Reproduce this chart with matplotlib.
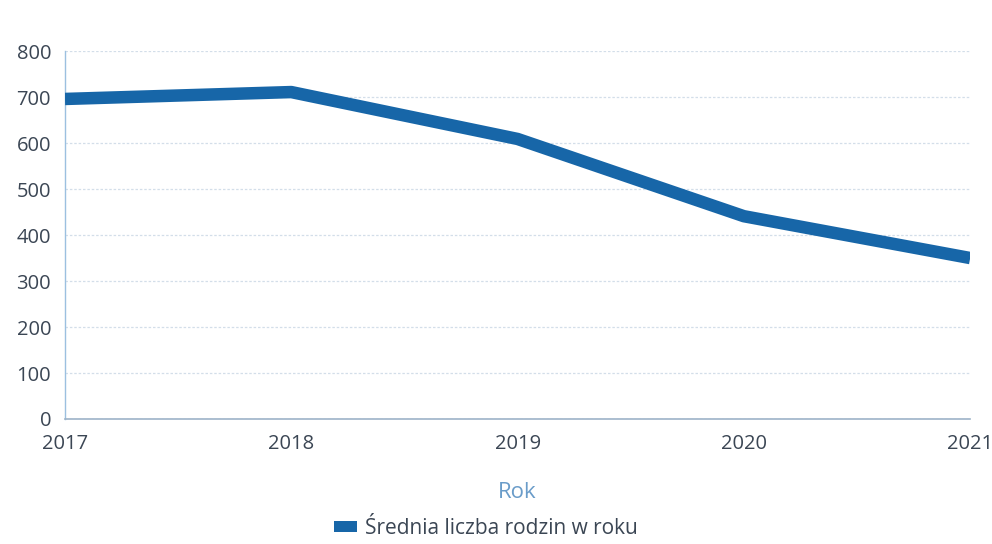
import matplotlib
matplotlib.use("Agg")
import matplotlib.pyplot as plt
from matplotlib.patches import Patch

years = [2017, 2018, 2019, 2020, 2021]
families = [696, 711, 609, 441, 350]
y_ticks = [0, 100, 200, 300, 400, 500, 600, 700, 800]
x_label = "Rok"
series_label = "Średnia liczba rodzin w roku"

plt.rcParams['font.family'] = ['Open Sans', 'DejaVu Sans']

line_color = "#1766a8"
text_color = "#3b4654"

fig = plt.figure(figsize=(9.92, 5.44), dpi=100)
ax = fig.add_axes([0.0655, 0.2298, 0.9125, 0.6762])

ax.plot(years, families, color=line_color, linewidth=9, solid_joinstyle="round",
        solid_capstyle="butt", zorder=3)

ax.set_xlim(years[0], years[-1])
ax.set_ylim(0, 800)
ax.set_xticks(years)
ax.set_yticks(y_ticks)
ax.grid(axis="y", color="#d3dee9", linewidth=0.9, linestyle=(0, (2, 1.5)))
ax.grid(axis="x", visible=False)
ax.set_axisbelow(True)

for s in ("top", "right"):
    ax.spines[s].set_visible(False)
ax.spines["left"].set_color("#9cc0e0")
ax.spines["bottom"].set_color("#9db3c8")
ax.spines["left"].set_linewidth(1.0)
ax.spines["bottom"].set_linewidth(1.2)

ax.tick_params(axis="both", length=0, labelsize=14.5, labelcolor=text_color)
ax.tick_params(axis="y", pad=10)
ax.tick_params(axis="x", pad=11)

ax.set_xlabel(x_label, fontsize=16, color="#6a9cc9", labelpad=20)

handle = Patch(facecolor=line_color, edgecolor="none")
fig.legend([handle], [series_label], loc="lower center",
           bbox_to_anchor=(0.49, -0.025), frameon=False, fontsize=15,
           labelcolor=text_color, handletextpad=0.4,
           handlelength=1.1, handleheight=0.45)

fig.savefig("out.png", dpi=100)
